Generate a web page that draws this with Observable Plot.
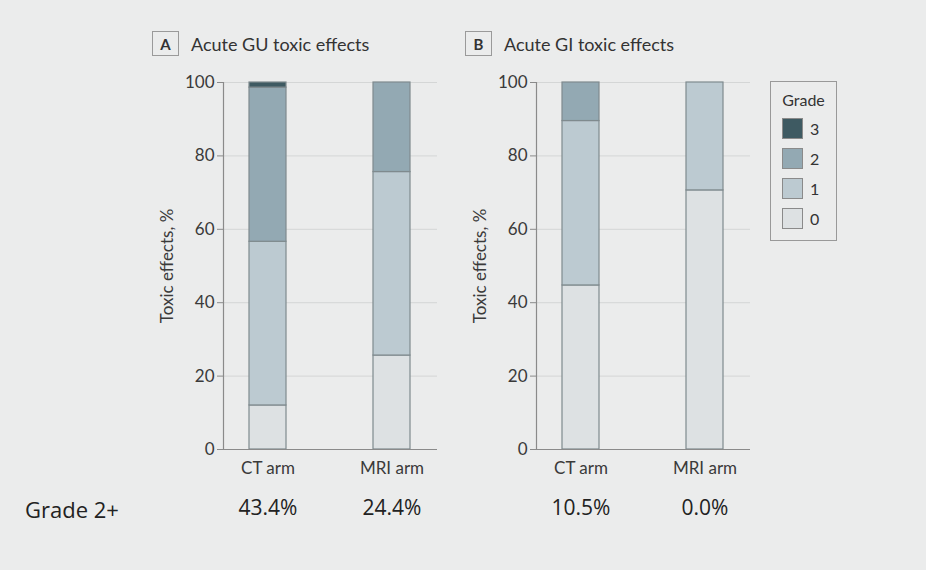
<!DOCTYPE html>
<html>
<head>
<meta charset="utf-8">
<script src="https://cdn.jsdelivr.net/npm/d3@7"></script>
<script src="https://cdn.jsdelivr.net/npm/@observablehq/plot@0.6"></script>
<style>
  html, body { margin: 0; padding: 0; background: #ebecec; }
  #chart { position: relative; width: 926px; height: 570px; background: #ebecec; font-family: Lato, "Noto Sans", sans-serif; color: #333; overflow: hidden; }
  .panel { position: absolute; top: 60px; }
  .head { position: absolute; display: flex; align-items: center; }
  .letter { width: 27px; height: 25px; border: 1px solid #9a9a9a; display: flex; align-items: center; justify-content: center; font-size: 15px; font-weight: 700; color: #333; box-sizing: border-box; }
  .title { margin-left: 12px; font-size: 18px; color: #333; }
  .legend { position: absolute; left: 770px; top: 81px; width: 67px; height: 160px; border: 1px solid #999; box-sizing: border-box; }
  .legend .lt { position: absolute; top: 8px; left: 0; width: 100%; text-align: center; font-size: 16px; }
  .legend .row { position: absolute; left: 11px; display: flex; align-items: center; font-size: 16px; }
  .legend .sw { width: 21px; height: 21px; border: 1px solid #8a8a8a; box-sizing: border-box; margin-right: 7px; }
  .rowlabel { position: absolute; left: 25px; top: 494px; font-family: "Open Sans", sans-serif; font-size: 22px; color: #222; }
</style>
</head>
<body>
<div id="chart"></div>
<script>
// Toxicity grades, bottom to top of each stacked bar
const grades = ["0", "1", "2", "3"];
const gradeColors = ["#dde1e3", "#bccad1", "#93a9b3", "#3e5a62"];
const legendOrder = ["3", "2", "1", "0"];
const arms = ["CT arm", "MRI arm"];
const yTicks = [0, 20, 40, 60, 80, 100];
const yLabel = "Toxic effects, %";

// A: acute genitourinary toxic effects (% of patients)
const guGrade0 = [12.0, 25.6];
const guGrade1 = [44.6, 50.0];
const guGrade3 = [1.4, 0.0];
const guGrade2plus = [43.4, 24.4];

// B: acute gastrointestinal toxic effects (% of patients)
const giGrade0 = [44.7, 70.6];
const giGrade1 = [44.8, 29.4];
const giGrade3 = [0.0, 0.0];
const giGrade2plus = [10.5, 0.0];

const chart = document.getElementById("chart");

function panel(left, letter, title, g0, g1, g3, g2plus) {
  const rows = [];
  arms.forEach((arm, i) => {
    const vals = [g0[i], g1[i], g2plus[i] - g3[i], g3[i]];
    vals.forEach((v, k) => { if (v > 0) rows.push({arm, grade: grades[k], value: v}); });
  });
  const summary = arms.map((arm, i) => ({arm, label: g2plus[i].toFixed(1) + "%"}));

  const svg = Plot.plot({
    width: 300, height: 470,
    marginLeft: 83, marginRight: 3, marginTop: 22, marginBottom: 81,
    style: {background: "transparent", fontFamily: "Lato, 'Noto Sans', sans-serif", color: "#3a3a3a", overflow: "visible"},
    x: {domain: arms, paddingInner: 0.7, paddingOuter: 0.21},
    y: {domain: [0, 100]},
    color: {domain: grades, range: gradeColors},
    marks: [
      Plot.gridY({ticks: yTicks, stroke: "#d4d6d6", strokeOpacity: 1}),
      Plot.barY(rows, {x: "arm", y: "value", fill: "grade", order: grades, stroke: "#7f8a8e", strokeWidth: 1.2}),
      Plot.frame({anchor: "left", stroke: "#8a8a8a", strokeWidth: 1.2}),
      Plot.ruleY([0], {stroke: "#8a8a8a", strokeWidth: 1.2}),
      Plot.axisY({ticks: yTicks, tickSize: 6, tickPadding: 3, fontSize: 17, label: null, stroke: "#8a8a8a"}),
      Plot.axisX({tickSize: 0, tickPadding: 12, fontSize: 17, label: null}),
      Plot.text([yLabel], {text: d => d, frameAnchor: "left", textAnchor: "middle", dx: -56, rotate: -90, fontSize: 17, fill: "#3a3a3a"}),
      Plot.text(summary, {x: "arm", text: "label", frameAnchor: "bottom", dy: 65, fontSize: 21, fontFamily: "'Open Sans', sans-serif", fill: "#222"})
    ]
  });
  const wrap = document.createElement("div");
  wrap.className = "panel";
  wrap.style.left = left + "px";
  wrap.appendChild(svg);
  chart.appendChild(wrap);

  const head = document.createElement("div");
  head.className = "head";
  head.style.left = (left + 12) + "px";
  head.style.top = "31px";
  head.innerHTML = `<div class="letter">${letter}</div><div class="title">${title}</div>`;
  chart.appendChild(head);
}

panel(140, "A", "Acute GU toxic effects", guGrade0, guGrade1, guGrade3, guGrade2plus);
panel(453, "B", "Acute GI toxic effects", giGrade0, giGrade1, giGrade3, giGrade2plus);

// Grade legend
const legend = document.createElement("div");
legend.className = "legend";
legend.innerHTML = `<div class="lt">Grade</div>` + legendOrder.map((g, i) =>
  `<div class="row" style="top:${36 + i * 30}px"><div class="sw" style="background:${gradeColors[grades.indexOf(g)]}"></div>${g}</div>`
).join("");
chart.appendChild(legend);

const rowLabel = document.createElement("div");
rowLabel.className = "rowlabel";
rowLabel.textContent = "Grade 2+";
chart.appendChild(rowLabel);
</script>
</body>
</html>
